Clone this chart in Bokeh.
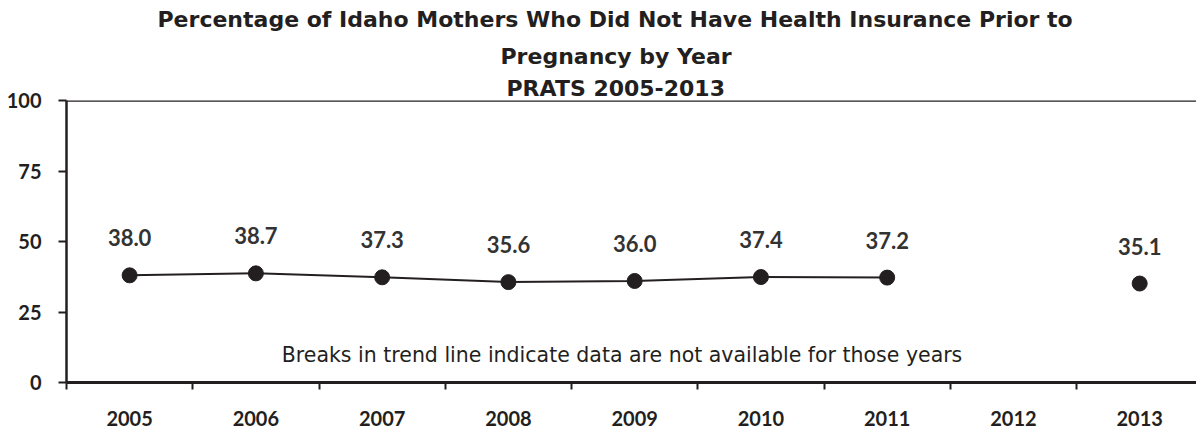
import math
from bokeh.plotting import figure
from bokeh.models import (ColumnDataSource, Range1d, FixedTicker, LinearAxis,
                          Label, LabelSet, Span, Title)
from bokeh.core.properties import value
from bokeh.embed import file_html
from bokeh.resources import INLINE

years = [2005, 2006, 2007, 2008, 2009, 2010, 2011, 2012, 2013]
pct = [38.0, 38.7, 37.3, 35.6, 36.0, 37.4, 37.2, float("nan"), 35.1]
y_ticks = [0, 25, 50, 75, 100]
title_lines = ["Percentage of Idaho Mothers Who Did Not Have Health Insurance Prior to",
               "Pregnancy by Year",
               "PRATS 2005-2013"]
note = "Breaks in trend line indicate data are not available for those years"

INK = "#231f20"
LAB = "#333333"
TICK_FONT = "Lato"
TITLE_FONT = "DejaVu Sans"
NOTE_FONT = "DejaVu Sans"

line_src = ColumnDataSource(dict(x=years, y=pct))
pts = [(x, v) for x, v in zip(years, pct) if not math.isnan(v)]
pt_src = ColumnDataSource(dict(x=[p[0] for p in pts], y=[p[1] for p in pts],
                               lab=[f"{p[1]:.1f}" for p in pts]))

p = figure(width=1196, height=431, output_backend="svg", toolbar_location=None,
           x_range=Range1d(years[0] - 0.5, years[-1] + 0.45),
           y_range=Range1d(y_ticks[0], y_ticks[-1]),
           min_border_left=66, min_border_right=0, min_border_top=0,
           min_border_bottom=49,
           x_axis_location=None, y_axis_location=None)
p.outline_line_color = None
p.grid.grid_line_color = None
p.background_fill_color = "white"
p.border_fill_color = "white"

# three-line title (later-added titles sit higher)
for txt, off, sto in zip(reversed(title_lines), [440, 434, 91], [0, 10, 9]):
    p.add_layout(Title(text=txt, align="left", offset=off, standoff=sto,
                       text_font=TITLE_FONT, text_font_size="22px",
                       text_font_style="bold", text_color=INK), "above")

yax = LinearAxis(ticker=FixedTicker(ticks=y_ticks))
yax.axis_line_width = 2.5
yax.axis_line_color = INK
yax.major_tick_line_width = 2
yax.major_tick_line_color = INK
yax.major_tick_out = 8
yax.major_tick_in = 0
yax.minor_tick_line_color = None
yax.major_label_standoff = 17
yax.major_label_text_font = TICK_FONT
yax.major_label_text_font_size = "20px"
yax.major_label_text_font_style = "bold"
yax.major_label_text_color = INK
p.add_layout(yax, "left")

xax = LinearAxis(ticker=FixedTicker(ticks=years,
                                    minor_ticks=[y - 0.5 for y in years] + [years[-1] + 0.5]))
xax.axis_line_width = 3
xax.axis_line_color = INK
xax.major_tick_line_color = None
xax.major_tick_out = 7
xax.major_tick_in = 0
xax.minor_tick_line_width = 2
xax.minor_tick_line_color = INK
xax.minor_tick_out = 7
xax.minor_tick_in = 0
xax.major_label_standoff = 21
xax.major_label_text_font = TICK_FONT
xax.major_label_text_font_size = "20px"
xax.major_label_text_font_style = "bold"
xax.major_label_text_color = INK
p.add_layout(xax, "below")

p.add_layout(Span(location=y_ticks[-1], dimension="width", line_color=INK, line_width=2.5))

p.line("x", "y", source=line_src, line_color=INK, line_width=2)
p.scatter("x", "y", source=pt_src, size=15, fill_color=INK, line_color=INK)
p.add_layout(LabelSet(x="x", y="y", text="lab", source=pt_src, text_align="center",
                      text_baseline="alphabetic", y_offset=29, text_font=value(TICK_FONT),
                      text_font_size=value("22px"), text_font_style=value("bold"),
                      text_color=value(LAB)))

p.add_layout(Label(x=2008.9, y=9.6, text=note, text_align="center", text_baseline="middle",
                   text_font=NOTE_FONT, text_font_size="20.5px", text_color=INK))

open("out.html", "w").write(file_html(p, INLINE))
